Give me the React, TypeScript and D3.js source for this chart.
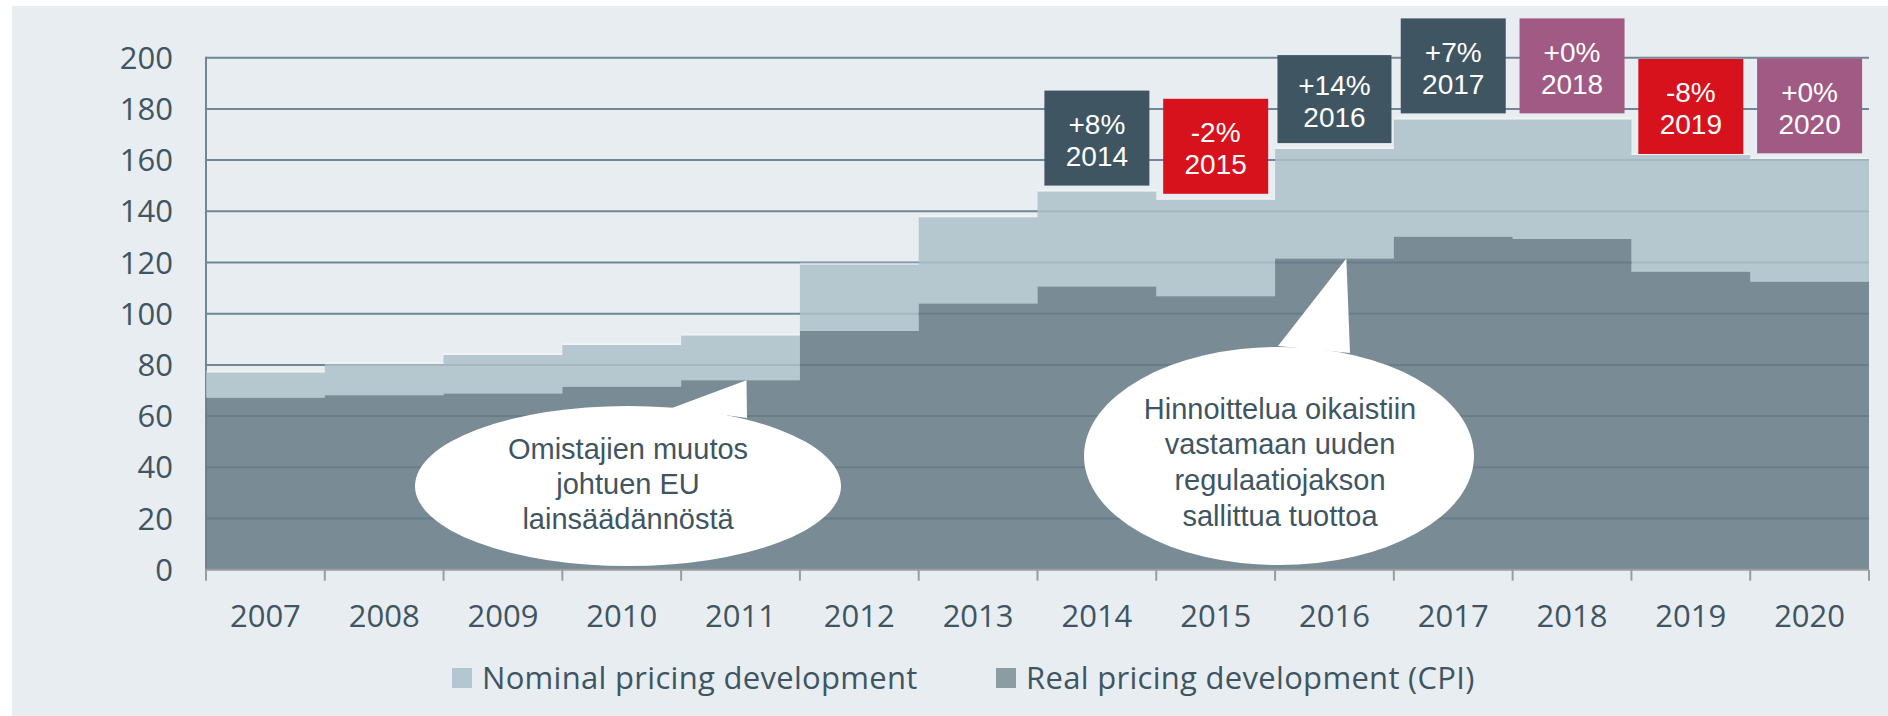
import React from "react";
import * as d3 from "d3";

const years = ["2007", "2008", "2009", "2010", "2011", "2012", "2013", "2014", "2015", "2016", "2017", "2018", "2019", "2020"];
const nominalIndex = [77.0, 80.2, 83.9, 87.8, 91.5, 119.2, 137.7, 147.7, 144.5, 164.3, 175.9, 175.9, 162.0, 160.3];
const realIndex = [67.2, 68.1, 68.8, 71.5, 74.0, 93.2, 104.0, 110.6, 106.8, 121.6, 130.1, 129.2, 116.4, 112.5];
const yTicks = [0, 20, 40, 60, 80, 100, 120, 140, 160, 180, 200];

const changeYears = ["2014", "2015", "2016", "2017", "2018", "2019", "2020"];
const changeLabels = ["+8%", "-2%", "+14%", "+7%", "+0%", "-8%", "+0%"];
const changeKinds = ["up", "down", "up", "up", "flat", "down", "flat"];

const legendLabels = ["Nominal pricing development", "Real pricing development (CPI)"];

const note1Year = "2011";
const note1Lines = ["Omistajien muutos", "johtuen EU", "lainsäädännöstä"];
const note2Year = "2016";
const note2Lines = ["Hinnoittelua oikaistiin", "vastamaan uuden", "regulaatiojakson", "sallittua tuottoa"];

const BG = "#E8EDF1";
const GRID = "#6F8796";
const TEXT = "#3F5561";
const NOMINAL_FILL = "rgb(172,192,202)";
const REAL_FILL = "rgb(103,124,134)";
const BAR_OPACITY = 0.86;
const KIND_COLOR: Record<string, string> = { up: "#3F5662", down: "#D7121D", flat: "#A15A83" };

type StepPt = { x: number; lo: number; hi: number };

export default function App() {
  const W = 1888;
  const H = 716;
  const x = d3.scaleBand<string>().domain(years).range([206, 1869]).padding(0);
  const y = d3.scaleLinear().domain([0, 200]).range([569.7, 57.7]);
  const bw = x.bandwidth();
  const x0 = 206;
  const x1 = 1869;
  const axisFont = "'Open Sans', 'Noto Sans', sans-serif";
  const boxFont = "'Liberation Sans', Arial, sans-serif";

  const tickXs = years.map((yr) => x(yr) as number).concat([x1]);

  const stepPoints = (lo: (i: number) => number, hi: (i: number) => number): StepPt[] => {
    const pts: StepPt[] = [];
    years.forEach((yr, i) => {
      const xl = x(yr) as number;
      pts.push({ x: xl, lo: lo(i), hi: hi(i) });
      pts.push({ x: xl + bw, lo: lo(i), hi: hi(i) });
    });
    return pts;
  };
  const area = d3
    .area<StepPt>()
    .x((d) => d.x)
    .y0((d) => y(d.lo))
    .y1((d) => y(d.hi));
  const nominalPath = area(stepPoints((i) => realIndex[i], (i) => nominalIndex[i])) || "";
  const realPath = area(stepPoints(() => 0, (i) => realIndex[i])) || "";

  // callout 1
  const i1 = years.indexOf(note1Year);
  const tip1 = { x: (x(note1Year) as number) + bw * 0.55, y: y(realIndex[i1]) };
  const e1 = { cx: 628, cy: 486, rx: 213, ry: 80 };
  // callout 2
  const i2 = years.indexOf(note2Year);
  const tip2 = { x: (x(note2Year) as number) + bw * 0.6, y: y(realIndex[i2]) };
  const e2 = { cx: 1279, cy: 456, rx: 195, ry: 109 };

  return (
    <svg
      width={W}
      height={H}
      style={{ position: "absolute", left: 0, top: 0, display: "block" }}
      xmlns="http://www.w3.org/2000/svg"
    >
      <rect x={0} y={0} width={W} height={H} fill="#ffffff" />
      <rect x={12} y={6} width={W - 12} height={H - 6} fill={BG} />

      {/* gridlines and y axis line (under bars) */}
      {yTicks
        .filter((t) => t > 0)
        .map((t) => (
          <line key={"g" + t} x1={x0} x2={x1} y1={y(t)} y2={y(t)} stroke={GRID} strokeWidth={2} />
        ))}
      <line x1={x0} x2={x0} y1={y(200) - 1} y2={y(0)} stroke={GRID} strokeWidth={2} />

      {/* stepped bars */}
      <path d={nominalPath} fill={NOMINAL_FILL} fillOpacity={BAR_OPACITY} />
      <path d={realPath} fill={REAL_FILL} fillOpacity={BAR_OPACITY} />
      {years.map((yr, i) => (
        <line
          key={"top" + yr}
          x1={x(yr)}
          x2={(x(yr) as number) + bw}
          y1={y(nominalIndex[i]) - 1}
          y2={y(nominalIndex[i]) - 1}
          stroke="#ffffff"
          strokeOpacity={0.35}
          strokeWidth={2}
        />
      ))}

      {/* x axis */}
      <line x1={x0} x2={x1} y1={y(0)} y2={y(0)} stroke="#9C9C9C" strokeWidth={2} />
      {tickXs.map((tx, i) => (
        <line key={"t" + i} x1={tx} x2={tx} y1={y(0)} y2={y(0) + 11} stroke="#9C9C9C" strokeWidth={2} />
      ))}

      {/* y labels */}
      {yTicks.map((t) => (
        <text
          key={"yl" + t}
          x={173}
          y={y(t) + 11}
          textAnchor="end"
          fontFamily={axisFont}
          fontSize={31}
          fill={TEXT}
        >
          {t}
        </text>
      ))}

      {/* x labels */}
      {years.map((yr) => (
        <text
          key={"xl" + yr}
          x={(x(yr) as number) + bw / 2}
          y={627}
          textAnchor="middle"
          fontFamily={axisFont}
          fontSize={31}
          fill={TEXT}
        >
          {yr}
        </text>
      ))}

      {/* callouts */}
      <g fill="#ffffff">
        <ellipse cx={e1.cx} cy={e1.cy} rx={e1.rx} ry={e1.ry} />
        <polygon points={`672,${e1.cy - e1.ry + 2} ${tip1.x},${tip1.y} 747,418`} />
        <ellipse cx={e2.cx} cy={e2.cy} rx={e2.rx} ry={e2.ry} />
        <polygon points={`1278,346 ${tip2.x},${tip2.y} 1350,353`} />
      </g>
      {note1Lines.map((ln, i) => (
        <text
          key={"n1" + i}
          x={e1.cx}
          y={458.5 + i * 35}
          textAnchor="middle"
          fontFamily={boxFont}
          fontSize={29}
          fill={TEXT}
        >
          {ln}
        </text>
      ))}
      {note2Lines.map((ln, i) => (
        <text
          key={"n2" + i}
          x={1280}
          y={418.5 + i * 35.7}
          textAnchor="middle"
          fontFamily={boxFont}
          fontSize={29}
          fill={TEXT}
        >
          {ln}
        </text>
      ))}

      {/* change boxes */}
      {changeYears.map((yr, k) => {
        const i = years.indexOf(yr);
        const cx = (x(yr) as number) + bw / 2;
        const w = changeLabels[k].length > 3 ? 114 : 105;
        const h = changeLabels[k].length > 3 ? 88 : 95;
        const bottom = y(nominalIndex[i]) - (changeKinds[k] === "down" && i === years.length - 2 ? 1 : 6);
        const top = bottom - h;
        const mid = top + h / 2;
        return (
          <g key={"c" + yr}>
            <rect x={cx - w / 2} y={top} width={w} height={h} fill={KIND_COLOR[changeKinds[k]]} />
            <text x={cx} y={mid - 4} textAnchor="middle" fontFamily={boxFont} fontSize={28} fill="#ffffff">
              {changeLabels[k]}
            </text>
            <text x={cx} y={mid + 28} textAnchor="middle" fontFamily={boxFont} fontSize={28} fill="#ffffff">
              {yr}
            </text>
          </g>
        );
      })}

      {/* legend */}
      <rect x={452} y={668} width={20} height={20} fill="#B4C6CF" />
      <text x={482} y={689} fontFamily={axisFont} fontSize={31} letterSpacing={0.3} fill={TEXT}>
        {legendLabels[0]}
      </text>
      <rect x={996} y={668} width={20} height={20} fill="#8C9CA3" />
      <text x={1026} y={689} fontFamily={axisFont} fontSize={31} letterSpacing={0.3} fill={TEXT}>
        {legendLabels[1]}
      </text>
    </svg>
  );
}
